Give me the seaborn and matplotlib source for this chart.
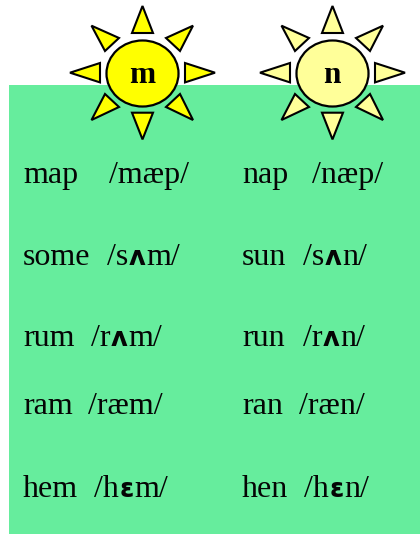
import matplotlib
matplotlib.use("Agg")
import matplotlib.pyplot as plt
from matplotlib.patches import Rectangle, Polygon
from matplotlib.path import Path
from matplotlib.transforms import Affine2D
import seaborn as sns

sun_letters = ["m", "n"]
sun_colors = ["#FFFF00", "#FFFF99"]
m_words = ["map", "some", "rum", "ram", "hem"]
m_ipa = ["/mæp/", "/sʌm/", "/rʌm/", "/ræm/", "/hɛm/"]
n_words = ["nap", "sun", "run", "ran", "hen"]
n_ipa = ["/næp/", "/sʌn/", "/rʌn/", "/ræn/", "/hɛn/"]
m_gaps = [109, 107, 91, 88, 94]
n_gaps = [312, 303, 303, 299, 304]
baselines = [183, 265, 346, 414, 497]
sun_x = [142.5, 332.5]
sun_y = 72.7
GREEN = "#66ED9D"

sns.set_theme(style="white")
plt.rcParams["font.family"] = ["Liberation Serif", "DejaVu Sans"]

fig = plt.figure(figsize=(4.2, 5.34), dpi=100)
ax = fig.add_axes([0, 0, 1, 1])
ax.set_xlim(0, 420)
ax.set_ylim(534, 0)
ax.axis("off")
ax.add_patch(Rectangle((9, 85), 411, 449, fc=GREEN, ec="none", zorder=0))

rays = [
    [(0, -66.7), (-10.5, -39.7), (10.5, -39.7)],
    [(0, 66.7), (-10.5, 40), (10.5, 40)],
    [(-72.5, 0), (-42.5, -9.7), (-42.5, 9.7)],
    [(72.5, 0), (42.5, -9.7), (42.5, 9.7)],
    [(50.5, -47), (23.5, -34.7), (37.5, -21.7)],
    [(-51, -47), (-23.5, -34.7), (-37.5, -21.7)],
    [(50.5, 47.3), (23.5, 34.3), (37.5, 21.3)],
    [(-51, 47.3), (-23.5, 34.3), (-37.5, 21.3)],
]
disc = Path.unit_circle().transformed(Affine2D().scale(1, 66 / 72))
for cx, letter, color in zip(sun_x, sun_letters, sun_colors):
    for r in rays:
        ax.add_patch(Polygon([(cx + a, sun_y + b) for a, b in r], closed=True,
                             fc=color, ec="black", lw=1.5, joinstyle="miter", zorder=2))
    sns.scatterplot(x=[cx - 0.5], y=[sun_y], marker=disc, s=2690, color=color,
                    edgecolor="black", linewidth=1.6, ax=ax, zorder=3, legend=False)
    ax.text(cx - 0.5, sun_y + 10.5, letter, fontsize=22.5, fontweight="bold", ha="center",
            va="baseline", color="black", zorder=4)

renderer = fig.canvas.get_renderer()
FS = 23


def ipa_text(x, y, s):
    run = ""
    parts = []
    for ch in s:
        if ch in "ʌɛ":
            parts += [(run, False), (ch, True)]
            run = ""
        else:
            run += ch
    parts.append((run, False))
    for part, special in parts:
        if not part:
            continue
        kw = dict(family="DejaVu Sans", fontweight="bold", fontsize=18.5) if special else dict(fontsize=FS)
        t = ax.text(x, y, part, va="baseline", ha="left", color="#050505", zorder=4, **kw)
        bb = t.get_window_extent(renderer)
        x += bb.width + (1 if special else 0.5)


for col_x, words, ipas, gaps in [(23, m_words, m_ipa, m_gaps), (242, n_words, n_ipa, n_gaps)]:
    for w, p, g, y in zip(words, ipas, gaps, baselines):
        ax.text(col_x, y, w, fontsize=FS, va="baseline", ha="left", color="#050505", zorder=4)
        ipa_text(g, y, p)

fig.savefig("out.png", dpi=100)
